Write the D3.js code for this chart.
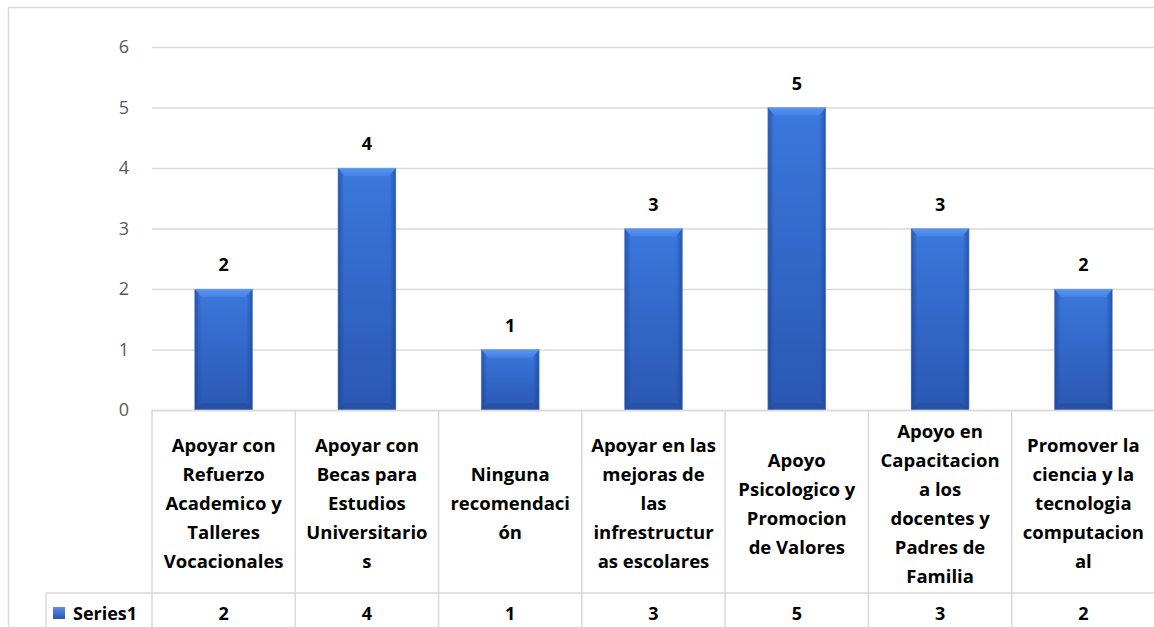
<!DOCTYPE html>
<html>
<head>
<meta charset="utf-8">
<script src="https://cdn.jsdelivr.net/npm/d3@7"></script>
<style>
  html, body { margin: 0; padding: 0; background: #fff; }
  svg { display: block; }
</style>
</head>
<body>
<svg id="chart" width="1154" height="627"></svg>
<script>
// Recommendations and their counts
const categories = [
  "Apoyar con Refuerzo Academico y Talleres Vocacionales",
  "Apoyar con Becas para Estudios Universitarios",
  "Ninguna recomendación",
  "Apoyar en las mejoras de las infrestructuras escolares",
  "Apoyo Psicologico y Promocion de Valores",
  "Apoyo en Capacitacion a los docentes y Padres de Familia",
  "Promover la ciencia y la tecnologia computacional"
];
// How each category name wraps inside its table cell
const categoryLines = [
  ["Apoyar con", "Refuerzo", "Academico y", "Talleres", "Vocacionales"],
  ["Apoyar con", "Becas para", "Estudios", "Universitario", "s"],
  ["Ninguna", "recomendaci", "ón"],
  ["Apoyar en las", "mejoras de", "las", "infrestructur", "as escolares"],
  ["Apoyo", "Psicologico y", "Promocion", "de Valores"],
  ["Apoyo en", "Capacitacion", "a los", "docentes y", "Padres de", "Familia"],
  ["Promover la", "ciencia y la", "tecnologia", "computacion", "al"]
];
const seriesName = "Series1";
const values = [2, 4, 1, 3, 5, 3, 2];
const yTicks = [0, 1, 2, 3, 4, 5, 6];

const svg = d3.select("#chart");
const W = 1154, H = 627;
const plotLeft = 152, plotRight = 1155, plotTop = 47, plotBottom = 410;
const tableRowY = 593;
const legendLeft = 46;
const gridColor = "#d9d9d9";
const catFont = "'Open Sans', 'Noto Sans', sans-serif";

const x = d3.scaleBand().domain(categories).range([plotLeft, plotRight]).padding(0);
const y = d3.scaleLinear().domain([0, 6]).range([plotBottom, plotTop]);

// Gradients for the bevelled bars
const defs = svg.append("defs");
const body = defs.append("linearGradient").attr("id", "barBody")
  .attr("x1", 0).attr("y1", 0).attr("x2", 0).attr("y2", 1);
body.append("stop").attr("offset", "0%").attr("stop-color", "#3b78dd");
body.append("stop").attr("offset", "100%").attr("stop-color", "#2a57b3");
const sides = defs.append("linearGradient").attr("id", "barSides")
  .attr("x1", 0).attr("y1", 0).attr("x2", 1).attr("y2", 0);
sides.append("stop").attr("offset", "0%").attr("stop-color", "#163f8c").attr("stop-opacity", 0.6);
sides.append("stop").attr("offset", "11%").attr("stop-color", "#163f8c").attr("stop-opacity", 0.0);
sides.append("stop").attr("offset", "89%").attr("stop-color", "#163f8c").attr("stop-opacity", 0.0);
sides.append("stop").attr("offset", "100%").attr("stop-color", "#163f8c").attr("stop-opacity", 0.6);
const topBevel = defs.append("linearGradient").attr("id", "barTop")
  .attr("x1", 0).attr("y1", 0).attr("x2", 0).attr("y2", 1);
topBevel.append("stop").attr("offset", "0%").attr("stop-color", "#5a95f0");
topBevel.append("stop").attr("offset", "100%").attr("stop-color", "#4382e6");

// Outer chart frame
svg.append("rect")
  .attr("x", 8.5).attr("y", 7.5)
  .attr("width", W + 20).attr("height", H + 20)
  .attr("fill", "none").attr("stroke", gridColor).attr("stroke-width", 1.5);

// Value axis with gridlines
const yAxis = svg.append("g")
  .attr("transform", `translate(${plotLeft},0)`)
  .call(d3.axisLeft(y).tickValues(yTicks).tickFormat(d3.format("d"))
    .tickSizeInner(-(plotRight - plotLeft)).tickSizeOuter(0).tickPadding(23))
  .attr("font-size", 18)
  .attr("font-family", "'Open Sans', 'Noto Sans', sans-serif");
yAxis.select(".domain").remove();
yAxis.selectAll(".tick line").attr("stroke", gridColor).attr("stroke-width", 1.4);
yAxis.selectAll(".tick text").attr("fill", "#595959");

// Bars
const barW = x.bandwidth() * 0.405;
const bars = svg.append("g").selectAll("g.bar")
  .data(categories.map((c, i) => ({ c, v: values[i] })))
  .join("g").attr("class", "bar");

bars.each(function(d) {
  const g = d3.select(this);
  const x0 = x(d.c) + (x.bandwidth() - barW) / 2;
  const x1 = x0 + barW;
  const y0 = y(d.v), y1 = y(0);
  const b = 7;
  g.append("rect").attr("x", x0).attr("y", y0).attr("width", barW).attr("height", y1 - y0)
    .attr("fill", "url(#barBody)");
  g.append("rect").attr("x", x0).attr("y", y0).attr("width", barW).attr("height", y1 - y0)
    .attr("fill", "url(#barSides)");
  // top bevel
  g.append("polygon")
    .attr("points", [[x0, y0], [x1, y0], [x1 - b, y0 + b + 1], [x0 + b, y0 + b + 1]].join(" "))
    .attr("fill", "url(#barTop)");
  // bottom bevel
  g.append("polygon")
    .attr("points", [[x0, y1], [x1, y1], [x1 - b, y1 - b], [x0 + b, y1 - b]].join(" "))
    .attr("fill", "#234c9e").attr("opacity", 0.6);
  g.append("rect").attr("x", x0).attr("y", y0).attr("width", barW).attr("height", y1 - y0)
    .attr("fill", "none").attr("stroke", "#9db3d6").attr("stroke-opacity", 0.5).attr("stroke-width", 0.8);
});

// Value labels above bars
svg.append("g").selectAll("text")
  .data(categories.map((c, i) => ({ c, v: values[i] })))
  .join("text")
  .attr("x", d => x(d.c) + x.bandwidth() / 2)
  .attr("y", d => y(d.v) - 18)
  .attr("text-anchor", "middle")
  .attr("font-family", catFont)
  .attr("font-weight", "bold")
  .attr("font-size", 18)
  .attr("fill", "#000")
  .text(d => d.v);

// Data table grid
const table = svg.append("g").attr("stroke", gridColor).attr("stroke-width", 1.5).attr("fill", "none");
table.append("line").attr("x1", plotLeft).attr("x2", plotRight).attr("y1", plotBottom + 0.5).attr("y2", plotBottom + 0.5);
table.append("line").attr("x1", legendLeft).attr("x2", plotRight).attr("y1", tableRowY).attr("y2", tableRowY);
table.append("line").attr("x1", legendLeft).attr("x2", legendLeft).attr("y1", tableRowY).attr("y2", H + 5);
table.selectAll("line.col")
  .data(categories)
  .join("line").attr("class", "col")
  .attr("x1", d => x(d)).attr("x2", d => x(d))
  .attr("y1", plotBottom).attr("y2", H + 5);

// Category names
const lineH = 29;
const cellMid = (plotBottom + tableRowY) / 2 + 1;
const catG = svg.append("g").selectAll("text")
  .data(categories.map((c, i) => ({ c, lines: categoryLines[i] })))
  .join("text")
  .attr("text-anchor", "middle")
  .attr("font-family", catFont)
  .attr("font-weight", "bold")
  .attr("font-size", 18.5)
  .attr("fill", "#000");
catG.each(function(d) {
  const t = d3.select(this);
  const n = d.lines.length;
  d.lines.forEach((ln, i) => {
    t.append("tspan")
      .attr("x", x(d.c) + x.bandwidth() / 2)
      .attr("y", cellMid + (i - (n - 1) / 2) * lineH)
      .attr("dominant-baseline", "central")
      .text(ln);
  });
});

// Series row: legend key, name and values
const legendKey = defs.append("linearGradient").attr("id", "keyGrad")
  .attr("x1", 0).attr("y1", 0).attr("x2", 0).attr("y2", 1);
legendKey.append("stop").attr("offset", "0%").attr("stop-color", "#5a8fe6");
legendKey.append("stop").attr("offset", "100%").attr("stop-color", "#2a55aa");
svg.append("rect").attr("x", 53).attr("y", 607).attr("width", 12).attr("height", 12)
  .attr("fill", "url(#keyGrad)");
svg.append("text")
  .attr("x", 73).attr("y", 613).attr("dominant-baseline", "central")
  .attr("font-family", catFont).attr("font-weight", "bold").attr("font-size", 18)
  .attr("fill", "#000").text(seriesName);
svg.append("g").selectAll("text")
  .data(categories.map((c, i) => ({ c, v: values[i] })))
  .join("text")
  .attr("x", d => x(d.c) + x.bandwidth() / 2)
  .attr("y", 613)
  .attr("dominant-baseline", "central")
  .attr("text-anchor", "middle")
  .attr("font-family", catFont).attr("font-weight", "bold").attr("font-size", 18)
  .attr("fill", "#000")
  .text(d => d.v);
</script>
</body>
</html>
